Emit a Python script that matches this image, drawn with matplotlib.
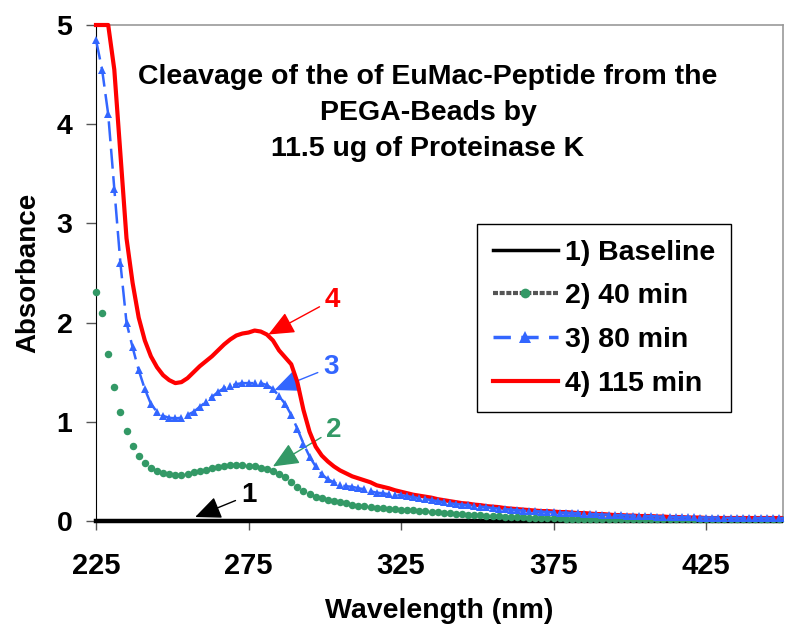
import numpy as np
import matplotlib
matplotlib.use("Agg")
import matplotlib.pyplot as plt
from matplotlib.lines import Line2D
from matplotlib.transforms import Bbox, TransformedBbox

plt.rcParams['font.family'] = ['Liberation Sans', 'DejaVu Sans']
plt.rcParams['font.weight'] = 'bold'

wavelength = list(range(225, 452, 2))

baseline = [0.0] * len(wavelength)

min40 = [2.31, 2.10, 1.68, 1.35, 1.10, 0.91, 0.76, 0.66, 0.58, 0.53,
         0.50, 0.48, 0.47, 0.46, 0.465, 0.475, 0.49, 0.50, 0.515, 0.53,
         0.54, 0.55, 0.56, 0.565, 0.56, 0.555, 0.55, 0.535, 0.52, 0.50,
         0.475, 0.44, 0.39, 0.34, 0.30, 0.27, 0.245, 0.23, 0.21, 0.20,
         0.19, 0.18, 0.165, 0.155, 0.15, 0.14, 0.135, 0.13, 0.125, 0.12,
         0.115, 0.11, 0.11, 0.105, 0.10, 0.095, 0.09, 0.085, 0.08, 0.075,
         0.07, 0.065, 0.06, 0.06, 0.055, 0.05, 0.05, 0.045, 0.045, 0.04,
         0.04, 0.035, 0.035, 0.03, 0.03, 0.03, 0.03, 0.025, 0.025, 0.025,
         0.025, 0.025, 0.025, 0.02, 0.02, 0.02, 0.02, 0.02, 0.02, 0.02,
         0.02, 0.02, 0.02, 0.02, 0.02, 0.02, 0.02, 0.02, 0.02, 0.02,
         0.02, 0.02, 0.02, 0.02, 0.02, 0.02, 0.02, 0.02, 0.02, 0.02,
         0.02, 0.02, 0.02, 0.02]

min80 = [4.85, 4.55, 4.10, 3.35, 2.60, 2.00, 1.75, 1.52, 1.33, 1.18,
         1.10, 1.06, 1.04, 1.035, 1.04, 1.07, 1.10, 1.15, 1.20, 1.25,
         1.30, 1.34, 1.36, 1.38, 1.39, 1.39, 1.39, 1.39, 1.37, 1.33,
         1.26, 1.18, 1.07, 0.93, 0.78, 0.65, 0.55, 0.47, 0.42, 0.39,
         0.36, 0.35, 0.345, 0.33, 0.32, 0.30, 0.285, 0.28, 0.27, 0.265,
         0.26, 0.25, 0.24, 0.23, 0.22, 0.21, 0.20, 0.19, 0.18, 0.17,
         0.165, 0.16, 0.15, 0.145, 0.14, 0.13, 0.125, 0.12, 0.115, 0.11,
         0.105, 0.10, 0.10, 0.095, 0.09, 0.09, 0.085, 0.085, 0.08, 0.08,
         0.075, 0.07, 0.07, 0.065, 0.065, 0.06, 0.06, 0.055, 0.055, 0.05,
         0.05, 0.05, 0.045, 0.045, 0.045, 0.04, 0.04, 0.04, 0.04, 0.035,
         0.035, 0.035, 0.035, 0.035, 0.03, 0.03, 0.03, 0.03, 0.03, 0.03,
         0.03, 0.03, 0.03, 0.03]

min115 = [5.0, 5.0, 5.0, 4.55, 3.70, 2.85, 2.40, 2.05, 1.82, 1.66,
          1.55, 1.47, 1.42, 1.39, 1.40, 1.44, 1.50, 1.56, 1.61, 1.66,
          1.72, 1.78, 1.83, 1.87, 1.89, 1.90, 1.92, 1.91, 1.88, 1.82,
          1.72, 1.65, 1.58, 1.40, 1.12, 0.90, 0.75, 0.66, 0.60, 0.55,
          0.51, 0.48, 0.45, 0.43, 0.41, 0.39, 0.36, 0.345, 0.33, 0.31,
          0.295, 0.28, 0.265, 0.255, 0.245, 0.235, 0.22, 0.21, 0.20, 0.19,
          0.18, 0.175, 0.165, 0.16, 0.15, 0.145, 0.14, 0.13, 0.125, 0.12,
          0.115, 0.11, 0.105, 0.10, 0.10, 0.095, 0.09, 0.09, 0.085, 0.08,
          0.08, 0.075, 0.07, 0.07, 0.065, 0.06, 0.06, 0.055, 0.055, 0.05,
          0.05, 0.05, 0.045, 0.045, 0.04, 0.04, 0.04, 0.035, 0.035, 0.035,
          0.03, 0.03, 0.03, 0.03, 0.03, 0.03, 0.03, 0.03, 0.03, 0.03,
          0.03, 0.03, 0.03, 0.03]

series_labels = ["1) Baseline", "2) 40 min", "3) 80 min", "4) 115 min"]
x_ticks = [225, 275, 325, 375, 425]
y_ticks = [0, 1, 2, 3, 4, 5]
title_lines = ["Cleavage of the of EuMac-Peptide from the", "PEGA-Beads by", "11.5 ug of Proteinase K"]

RED = "#FF0000"
BLUE = "#3366FF"
GREEN = "#339966"

fig = plt.figure(figsize=(7.86, 6.25), dpi=100)
ax = fig.add_axes([96/786, 1 - 521/625, (783 - 96)/786, (521 - 25)/625])
ax.set_xlim(225, 450.2)
ax.set_ylim(0, 5)

clip = TransformedBbox(Bbox([[-0.01, -0.02], [1.0, 1.02]]), ax.transAxes)

l1, = ax.plot(wavelength, baseline, color="black", lw=3.2, zorder=2)
l2, = ax.plot(wavelength, min40, color=GREEN, lw=0, marker='o', ms=5.4,
              markeredgewidth=0, zorder=3)
l4, = ax.plot(wavelength, min115, color=RED, lw=3.0, zorder=4)
l3, = ax.plot(wavelength, min80, color=BLUE, lw=1.8, dashes=(8, 3),
              marker='^', ms=6.3, markeredgewidth=0, zorder=5)
for ln in (l1, l2, l3, l4):
    ln.set_clip_box(clip)

for s in ["top", "right"]:
    ax.spines[s].set_color("#999999")
    ax.spines[s].set_linewidth(1.2)
ax.spines["left"].set_color("black")
ax.spines["bottom"].set_color("black")

ax.set_xticks(x_ticks)
ax.set_yticks(y_ticks)
ax.tick_params(axis='y', direction='out', length=7, width=1, color='#555555',
               pad=10, labelsize=20.5)
ax.tick_params(axis='x', direction='out', length=6.5, width=1, color='#555555',
               pad=15.5, labelsize=21)
for lab in ax.get_xticklabels() + ax.get_yticklabels():
    lab.set_fontweight('bold')

ax.set_xlabel("Wavelength (nm)", fontsize=20.5, fontweight='bold', labelpad=13)
ax.set_ylabel("Absorbance", fontsize=20, fontweight='bold', labelpad=11)

for i, t in enumerate(title_lines):
    fig.text(428/786, 1 - (76.5 + 36.5*i)/625, t, ha='center', va='center',
             fontsize=20.5, fontweight='bold')

# annotations
arrow = dict(arrowstyle='-|>,head_length=0.8,head_width=0.35', lw=1, shrinkA=2, shrinkB=0)
ax.annotate("4", xy=(281.5, 1.88), xytext=(302.5, 2.23), color=RED, fontsize=20,
            fontweight='bold', ha='center', va='center',
            arrowprops=dict(arrow, color=RED))
ax.annotate("3", xy=(283.5, 1.32), xytext=(302.0, 1.55), color=BLUE, fontsize=20,
            fontweight='bold', ha='center', va='center',
            arrowprops=dict(arrow, color=BLUE))
ax.annotate("2", xy=(283.0, 0.55), xytext=(303.0, 0.92), color=GREEN, fontsize=20,
            fontweight='bold', ha='center', va='center',
            arrowprops=dict(arrow, color=GREEN))
ax.annotate("1", xy=(257.5, 0.04), xytext=(275.0, 0.26), color='black', fontsize=20,
            fontweight='bold', ha='center', va='center',
            arrowprops=dict(arrow, color='black'))

handles = [
    Line2D([], [], color='black', lw=2.5),
    Line2D([], [], color='#555555', lw=3, linestyle=(0, (1.2, 0.4)), marker='o',
           markerfacecolor=GREEN, markeredgewidth=0, ms=7),
    Line2D([], [], color=BLUE, lw=2.5, dashes=(5, 3), marker='^',
           markerfacecolor=BLUE, markeredgewidth=0, ms=8),
    Line2D([], [], color=RED, lw=3),
]
leg = ax.legend(handles, series_labels, loc='upper left',
                bbox_to_anchor=((477 - 96)/687, (521 - 224)/496),
                frameon=True, fancybox=False, edgecolor='black', framealpha=1,
                prop=dict(weight='bold', size=20.5), handlelength=2.3,
                handletextpad=0.25, labelspacing=0.62, borderpad=0.55,
                borderaxespad=0)
leg.get_frame().set_linewidth(1)

fig.savefig("out.png", dpi=100)
